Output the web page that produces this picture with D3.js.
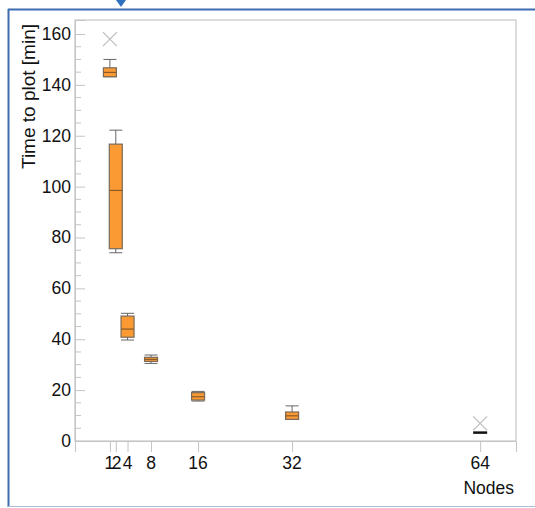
<!DOCTYPE html>
<html><head><meta charset="utf-8">
<script src="https://cdn.jsdelivr.net/npm/d3@7"></script>
<style>body{margin:0;background:#fff}svg{display:block}text{font-family:"Liberation Sans",Arial,sans-serif;fill:#111}</style>
</head><body>
<script>
const nodes = [1, 2, 4, 8, 16, 32, 64];
const whiskerLow = [143.2, 74.0, 39.7, 30.5, 15.7, 8.5, 3.3];
const q1 = [143.2, 75.6, 40.8, 31.3, 16.1, 8.5, 3.3];
const median = [144.9, 98.5, 44.0, 32.1, 17.4, 9.9, 3.3];
const q3 = [146.7, 116.7, 49.1, 32.9, 19.0, 11.4, 3.3];
const whiskerHigh = [150.0, 122.2, 50.2, 33.8, 19.5, 13.8, 3.3];
const outlierNodes = [1, 64];
const outlierValues = [158, 6.9];
const yTicks = [0, 20, 40, 60, 80, 100, 120, 140, 160];
const xTicks = [1, 2, 4, 8, 16, 32, 64];

const W = 535, H = 508;
const L = 75, R = 516, T = 20, B = 441;
const svg = d3.select("body").append("svg").attr("width", W).attr("height", H);

// outer blue frame
svg.append("line").attr("x1", 8).attr("x2", 535).attr("y1", 9.5).attr("y2", 9.5).attr("stroke", "#3d6cb0").attr("stroke-width", 2);
svg.append("line").attr("x1", 8.5).attr("x2", 8.5).attr("y1", 9).attr("y2", 507).attr("stroke", "#3d6cb0").attr("stroke-width", 2);
svg.append("line").attr("x1", 8).attr("x2", 535).attr("y1", 506.5).attr("y2", 506.5).attr("stroke", "#a9bedc").attr("stroke-width", 1);
svg.append("path").attr("d", "M116,0 L126,0 L121,7 Z").attr("fill", "#2f6fc0");

const x = d3.scaleLinear().domain([-4.94, 70.1]).range([L, R]);
const y = d3.scaleLinear().domain([0, 165.5]).range([B, T]);

// frame
svg.append("rect").attr("x", L).attr("y", T).attr("width", R - L).attr("height", B - T)
  .attr("fill", "none").attr("stroke", "#d2d2d2").attr("stroke-width", 1.5);

// y axis ticks (inward)
const yMinor = d3.range(0, 165, 5).filter(v => v % 20 !== 0);
svg.append("g").selectAll("line").data(yMinor).join("line")
  .attr("x1", L).attr("x2", L + 6).attr("y1", d => y(d)).attr("y2", d => y(d))
  .attr("stroke", "#c4c4c4").attr("stroke-width", 1);
const yAxis = svg.append("g").attr("transform", `translate(${L},0)`)
  .call(d3.axisRight(y).tickValues(yTicks).tickSize(10).tickFormat(""));
yAxis.select(".domain").attr("stroke", "#c4c4c4");
yAxis.selectAll(".tick line").attr("stroke", "#c4c4c4");
svg.append("g").selectAll("text").data(yTicks).join("text")
  .attr("x", 71).attr("y", d => y(d) + 6).attr("text-anchor", "end")
  .attr("font-size", 17.5).text(d => d);

// x axis
const xAxis = svg.append("g").attr("transform", `translate(0,${B})`)
  .call(d3.axisBottom(x).tickValues(xTicks).tickSize(11).tickFormat(""));
xAxis.select(".domain").attr("stroke", "#c4c4c4");
xAxis.selectAll(".tick line").attr("stroke", "#c4c4c4");
const xShift = {1: -0.5, 2: 0.8, 4: 0};
svg.append("g").selectAll("text").data(xTicks).join("text")
  .attr("x", d => x(d) + (xShift[d] || 0)).attr("y", 469).attr("text-anchor", "middle")
  .attr("font-size", 17.5).text(d => d);

// axis titles
svg.append("text").attr("transform", `translate(35,24) rotate(-90)`).attr("text-anchor", "end")
  .attr("font-size", 19).text("Time to plot [min]");
svg.append("text").attr("x", 514).attr("y", 494).attr("text-anchor", "end")
  .attr("font-size", 17.5).text("Nodes");

// boxes
const bw = 13;
const g = svg.append("g");
nodes.forEach((n, i) => {
  const cx = x(n);
  const flat = q3[i] - q1[i] < 0.5;
  if (flat) {
    g.append("line").attr("x1", cx - 7).attr("x2", cx + 7).attr("y1", y(median[i])).attr("y2", y(median[i]))
      .attr("stroke", "#111").attr("stroke-width", 2.5);
    return;
  }
  const wc = "#666";
  g.append("line").attr("x1", cx).attr("x2", cx).attr("y1", y(whiskerHigh[i])).attr("y2", y(q3[i])).attr("stroke", wc);
  g.append("line").attr("x1", cx).attr("x2", cx).attr("y1", y(q1[i])).attr("y2", y(whiskerLow[i])).attr("stroke", wc);
  g.append("line").attr("x1", cx - bw / 2).attr("x2", cx + bw / 2).attr("y1", y(whiskerHigh[i])).attr("y2", y(whiskerHigh[i])).attr("stroke", wc);
  g.append("line").attr("x1", cx - bw / 2).attr("x2", cx + bw / 2).attr("y1", y(whiskerLow[i])).attr("y2", y(whiskerLow[i])).attr("stroke", wc);
  g.append("rect").attr("x", cx - bw / 2).attr("y", y(q3[i])).attr("width", bw)
    .attr("height", Math.max(1, y(q1[i]) - y(q3[i])))
    .attr("fill", "#fb9a33").attr("stroke", "#7a6a5a").attr("stroke-width", 1.2);
  g.append("line").attr("x1", cx - bw / 2).attr("x2", cx + bw / 2).attr("y1", y(median[i])).attr("y2", y(median[i]))
    .attr("stroke", "#8a5a2a").attr("stroke-width", 1.2);
});

// outliers
outlierNodes.forEach((n, i) => {
  const cx = x(n), cy = y(outlierValues[i]), s = 7;
  g.append("path").attr("d", `M${cx - s},${cy - s}L${cx + s},${cy + s}M${cx - s},${cy + s}L${cx + s},${cy - s}`)
    .attr("stroke", "#bdbdbd").attr("stroke-width", 1.2).attr("fill", "none");
});
</script>
</body></html>
